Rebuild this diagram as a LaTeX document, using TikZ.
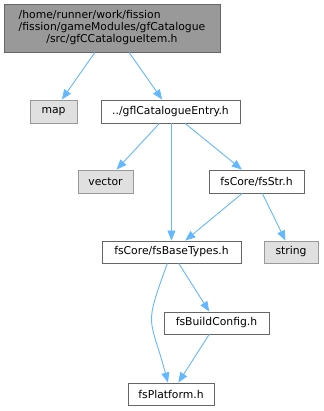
\documentclass[tikz,border=0pt]{standalone}
\usepackage{fontspec}
\setmainfont{DejaVu Sans}
\usetikzlibrary{arrows.meta}
\definecolor{edgeblue}{HTML}{63B8FF}
\definecolor{brd}{HTML}{666666}
\definecolor{extbrd}{HTML}{999999}
\definecolor{extfill}{HTML}{E0E0E0}
\definecolor{topfill}{HTML}{999999}
\tikzset{
  box/.style={draw=brd, fill=white, line width=0.9pt, inner sep=0pt, anchor=center,
    font=\fontsize{10.8}{13}\selectfont, align=center},
  extbox/.style={box, draw=extbrd, fill=extfill},
  topbox/.style={box, fill=topfill},
  dep/.style={draw=edgeblue, line width=0.9pt, -{Triangle[length=10pt,width=8pt]}}
}
\begin{document}
\begin{tikzpicture}[x=1pt,y=1pt]
\useasboundingbox (0,0) rectangle (323,411);
\node[topbox, minimum width=216pt, minimum height=48pt] (top) at (112,383)
  {\renewcommand{\arraystretch}{0.95}\begin{tabular}{@{}l@{}}/home/runner/work/fission\\/fission/gameModules/gfCatalogue\\\multicolumn{1}{@{}c@{}}{/src/gfCCatalogueItem.h}\end{tabular}};
\node[extbox, minimum width=47pt, minimum height=23pt] (map) at (53.5,299.5) {map};
\node[box, minimum width=139pt, minimum height=23pt] (entry) at (170.5,299.5) {../gflCatalogueEntry.h};
\node[extbox, minimum width=55pt, minimum height=23pt] (vector) at (105.5,229.5) {vector};
\node[box, minimum width=95pt, minimum height=23pt] (str) at (256.5,229.5) {fsCore/fsStr.h};
\node[box, minimum width=139pt, minimum height=22pt] (base) at (171.5,159) {fsCore/fsBaseTypes.h};
\node[extbox, minimum width=54pt, minimum height=22pt] (string) at (291,159) {string};
\node[box, minimum width=105pt, minimum height=22pt] (build) at (216.5,88) {fsBuildConfig.h};
\node[box, minimum width=86pt, minimum height=22pt] (plat) at (171,17) {fsPlatform.h};

\draw[dep] (top) -- (map);
\draw[dep] (top) -- (entry);
\draw[dep] (entry) -- (vector);
\draw[dep] (entry.south -| base) -- (base);
\draw[dep] (entry) -- (str);
\draw[dep] (str) -- (base);
\draw[dep] (str) -- (string);
\draw[dep] (base) to[out=250,in=105,looseness=1.5] (plat);
\draw[dep] (base) -- (build);
\draw[dep] (build) -- (plat);
\end{tikzpicture}
\end{document}
